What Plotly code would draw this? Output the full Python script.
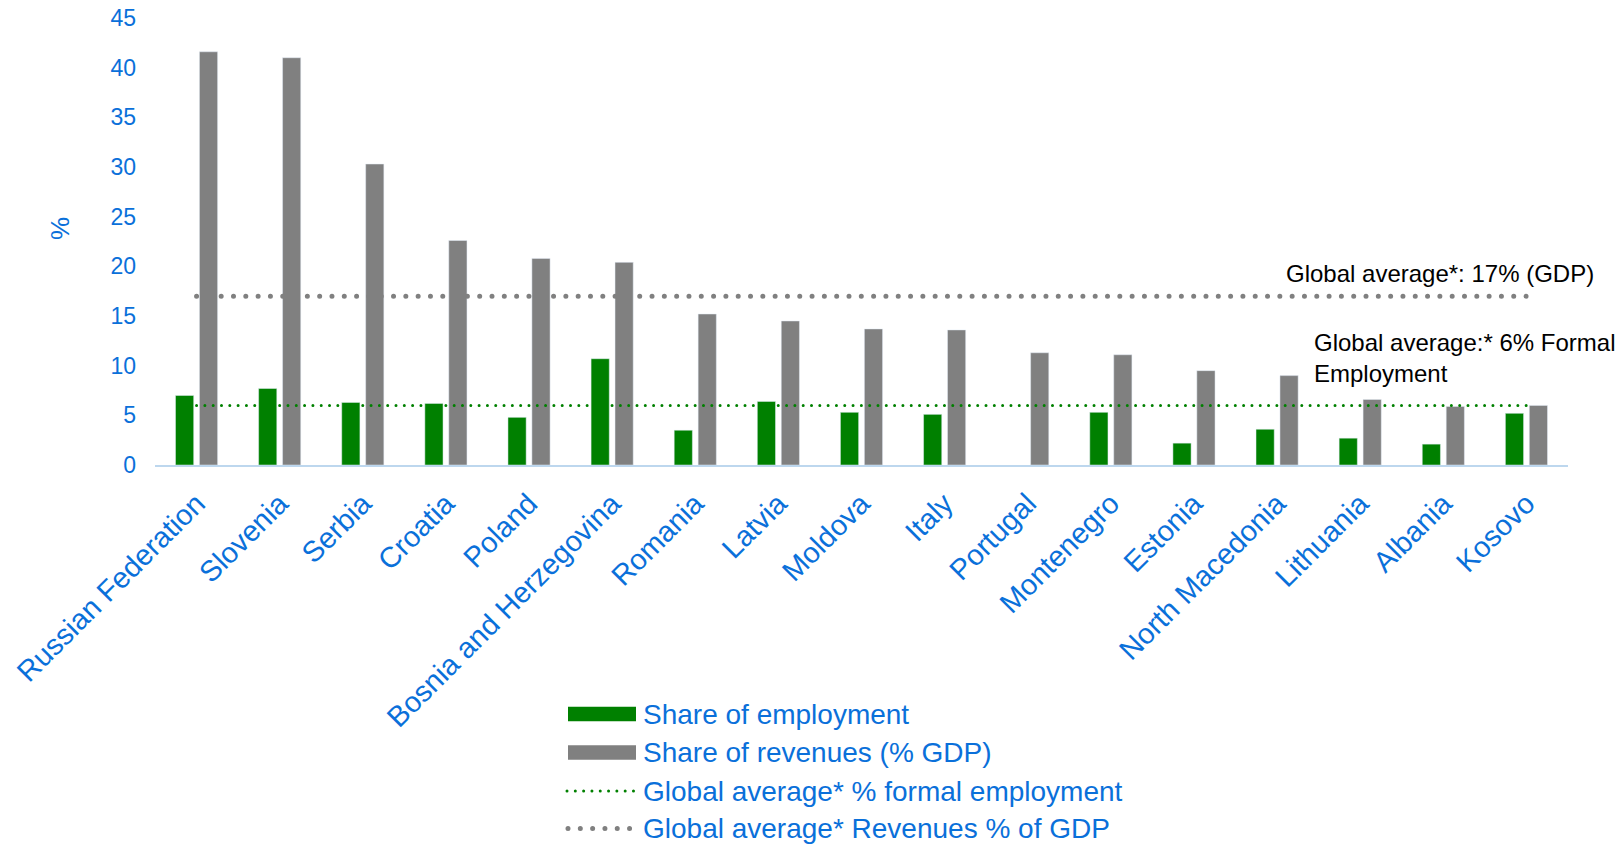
import plotly.graph_objects as go

# ---- data -------------------------------------------------------------
countries = [
    "Russian Federation", "Slovenia", "Serbia", "Croatia", "Poland",
    "Bosnia and Herzegovina", "Romania", "Latvia", "Moldova", "Italy",
    "Portugal", "Montenegro", "Estonia", "North Macedonia", "Lithuania",
    "Albania", "Kosovo",
]
share_employment = [7.0, 7.7, 6.3, 6.2, 4.8, 10.7, 3.5, 6.4, 5.3, 5.1,
                    None, 5.3, 2.2, 3.6, 2.7, 2.1, 5.2]
share_revenues = [41.6, 41.0, 30.3, 22.6, 20.8, 20.4, 15.2, 14.5, 13.7, 13.6,
                  11.3, 11.1, 9.5, 9.0, 6.6, 5.9, 6.0]
global_avg_employment = 6
global_avg_revenues = 17

legend_labels = [
    "Share of employment",
    "Share of revenues (% GDP)",
    "Global average* % formal employment",
    "Global average* Revenues % of GDP",
]
y_ticks = list(range(0, 50, 5))

# ---- styling ----------------------------------------------------------
FONT = "Liberation Sans, Arial, sans-serif"
BLUE = "#0A70DA"
GREEN = "#008000"
GREY = "#808080"
AXIS = "#BDD7EE"

W, H = 1619, 846
ML, MR, MT, MB = 155, 51, 18, 381
PW, PH = W - ML - MR, H - MT - MB


def px_x(px):
    return (px - ML) / PW


def px_y(py):
    return (H - MB - py) / PH


fig = go.Figure()
fig.add_bar(x=countries, y=share_employment, marker_color=GREEN,
            name=legend_labels[0])
fig.add_bar(x=countries, y=share_revenues, marker_color=GREY,
            name=legend_labels[1])
fig.add_scatter(x=countries, y=[global_avg_employment] * len(countries),
                mode="lines", line=dict(color=GREEN, width=3, dash="3px,5.3px"),
                name=legend_labels[2])
fig.add_scatter(x=countries, y=[global_avg_revenues] * len(countries),
                mode="lines", line=dict(color=GREY, width=5, dash="5px,7.3px"),
                name=legend_labels[3])

annotations = [
    dict(text="%", xref="paper", yref="paper", x=px_x(60), y=px_y(229),
         xanchor="center", yanchor="middle",
         textangle=-90, showarrow=False, font=dict(size=26, color=BLUE)),
    dict(text=f"Global average*: {global_avg_revenues}% (GDP)",
         xref="paper", yref="paper", x=px_x(1284), y=px_y(273),
         xanchor="left", yanchor="middle", showarrow=False,
         font=dict(size=24, color="black")),
    dict(text=f"Global average:* {global_avg_employment}% Formal<br>Employment",
         xref="paper", yref="paper", x=px_x(1312), y=px_y(358),
         xanchor="left", yanchor="middle", align="left", showarrow=False,
         font=dict(size=24, color="black")),
]

# hand-built legend below the axis
shapes = []
row_y = [714, 752.5, 791, 828.5]
for i, lab in enumerate(legend_labels):
    annotations.append(dict(text=lab, xref="paper", yref="paper",
                            x=px_x(641), y=px_y(row_y[i]),
                            xanchor="left", yanchor="middle", showarrow=False,
                            font=dict(size=28, color=BLUE)))
for i, col in enumerate([GREEN, GREY]):
    shapes.append(dict(type="rect", xref="paper", yref="paper",
                       x0=px_x(568), x1=px_x(636),
                       y0=px_y(row_y[i] - 7.2), y1=px_y(row_y[i] + 7.2),
                       fillcolor=col, line=dict(width=0)))
shapes.append(dict(type="line", xref="paper", yref="paper",
                   x0=px_x(567), x1=px_x(638), y0=px_y(row_y[2]), y1=px_y(row_y[2]),
                   line=dict(color=GREEN, width=3, dash="3px,5.3px")))
shapes.append(dict(type="line", xref="paper", yref="paper",
                   x0=px_x(568), x1=px_x(633), y0=px_y(row_y[3]), y1=px_y(row_y[3]),
                   line=dict(color=GREY, width=5, dash="5px,7.3px")))

fig.update_layout(
    width=W, height=H,
    margin=dict(l=ML, r=MR, t=MT, b=MB, pad=0),
    paper_bgcolor="white", plot_bgcolor="white",
    font=dict(family=FONT, color=BLUE),
    barmode="group", bargap=0.424, bargroupgap=0.24,
    showlegend=False,
    annotations=annotations, shapes=shapes,
    xaxis=dict(type="category", tickangle=-45, tickfont=dict(size=29, color=BLUE),
               showline=True, linecolor=AXIS, linewidth=2, showgrid=False,
               ticks="", ticklabelstandoff=8, automargin=False),
    yaxis=dict(range=[0, 45], tickvals=y_ticks, tickfont=dict(size=23, color=BLUE),
               showgrid=False, zeroline=False, showline=False, ticks="",
               ticklabelstandoff=18, automargin=False),
)

# turn the dashed average lines into round dots
post = """
function roundDots(){
  document.querySelectorAll('.scatterlayer path.js-line, .shapelayer path').forEach(function(p){
    var da = p.style.strokeDasharray;
    if(!da || da === 'none') return;
    var w = parseFloat(p.style.strokeWidth);
    var gap = w >= 4 ? 12.3 : 8.3;
    p.style.strokeLinecap = 'round';
    p.style.strokeDasharray = '0.01px,' + gap + 'px';
  });
}
roundDots();
var gd = document.getElementById('{plot_id}');
if (gd && gd.on) { gd.on('plotly_afterplot', roundDots); }
"""

fig.write_html("out.html", post_script=post)
